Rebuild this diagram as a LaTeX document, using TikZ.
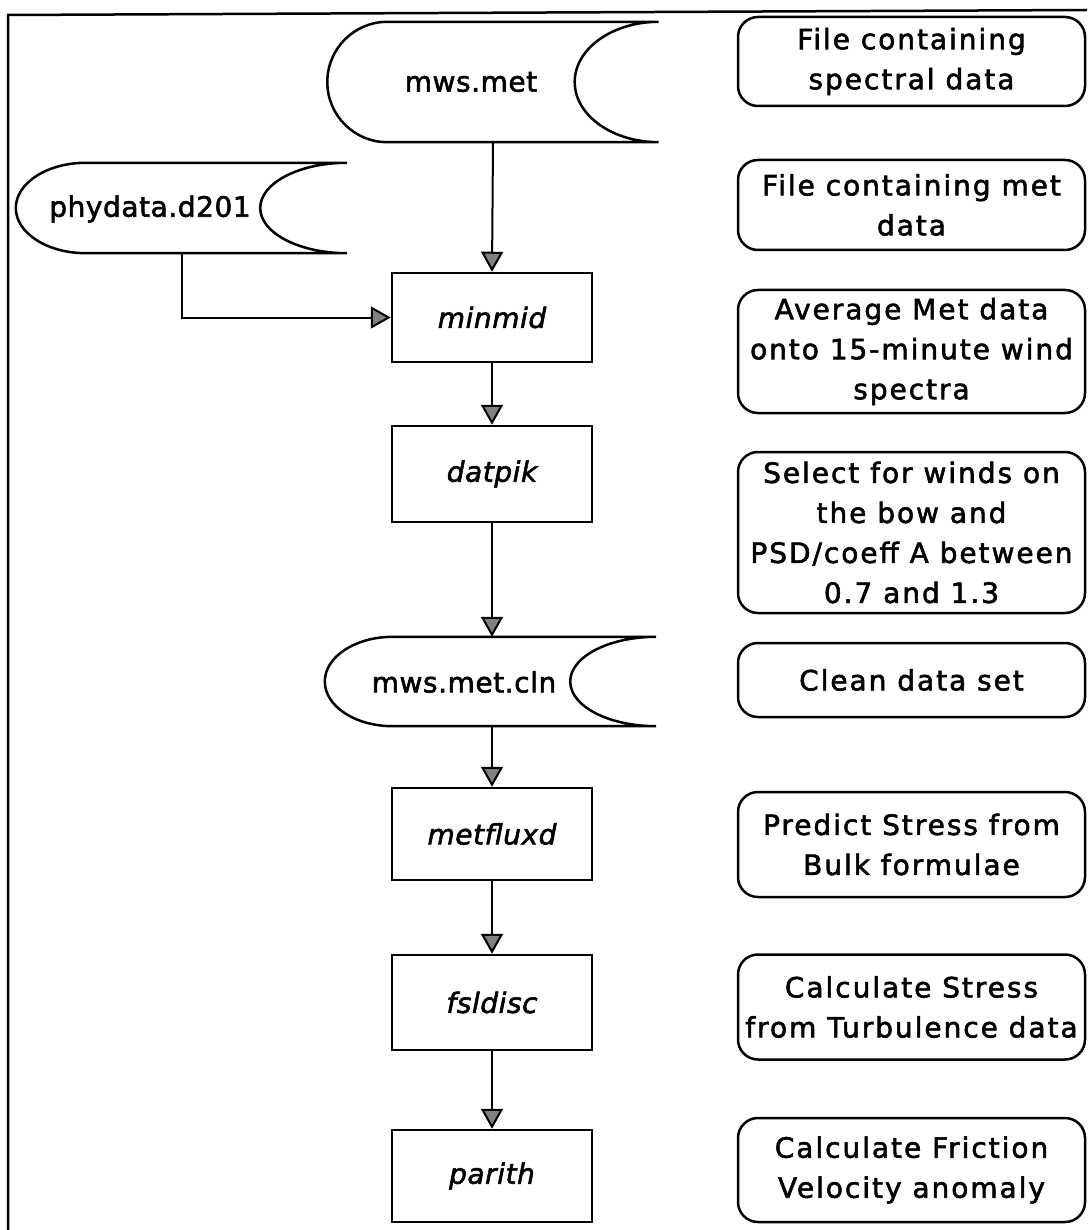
\documentclass[tikz,border=0pt]{standalone}
\usepackage{fontspec}
\setmainfont{DejaVu Sans}[FakeBold=2, LetterSpace=7]
\usetikzlibrary{arrows.meta,calc}

\definecolor{arrowgray}{gray}{0.5}

% outline of a stored-data symbol drawn around an (invisible) node:
% #1 node name, #2 width of the rounded left cap, #3 depth of the hollow right end
\newcommand\storeoutline[3]{%
  \draw[storeline] let \p1=(#1.north west), \p2=(#1.south east), \n1={(\y1-\y2)/2} in
    (\x1+#2,\y1) -- (\x2,\y1)
    arc[start angle=90, end angle=270, x radius=#3, y radius=\n1]
    -- (\x1+#2,\y2)
    arc[start angle=270, end angle=90, x radius=#2, y radius=\n1] -- cycle;}

\tikzset{
  every node/.style={font=\fontsize{28pt}{40pt}\selectfont},
  frameline/.style={line width=2.5pt},
  storeline/.style={line width=2.5pt},
  storebox/.style={inner sep=0pt, minimum width=331pt},
  storetext/.style={font=\fontsize{28pt}{40pt}\selectfont\addfontfeatures{LetterSpace=2}},
  procbox/.style={draw, line width=2.5pt, minimum width=200pt, minimum height=92pt,
                  inner sep=0pt,
                  font=\fontsize{28pt}{40pt}\selectfont\itshape\addfontfeatures{LetterSpace=2}},
  notebox/.style={draw, line width=2.5pt, rounded corners=20pt, minimum width=347pt,
                  inner sep=0pt, align=center},
  flow/.style={line width=2pt, -{Triangle[width=22pt,length=20pt,fill=arrowgray]}}
}

\begin{document}
\begin{tikzpicture}[x=1pt,y=-1pt]
  \fill[white] (0,0) rectangle (1087,1230);
  \useasboundingbox (0,0) rectangle (1087,1230);

  % page frame (left and top edges)
  \draw[frameline] (8,1230) -- (8,15) -- (1087,10);

  % stored data files
  \node[storebox, minimum height=120pt] (met) at (493,82) {};
  \storeoutline{met}{60pt}{84pt}
  \node[storetext] (metlabel) at (471,82) {mws.met};

  \node[storebox, minimum height=90pt] (phy) at (181.5,208) {};
  \storeoutline{phy}{70pt}{87pt}
  \node[storetext] (phylabel) at (150,209) {phydata.d201};

  \node[storebox, minimum height=89pt] (cln) at (490.5,681.5) {};
  \storeoutline{cln}{68pt}{86pt}
  \node[storetext] (clnlabel) at (464,682) {mws.met.cln};

  % processing programs
  \node[procbox, minimum height=89pt] (minmid) at (492,317.5) {minmid};
  \node[procbox, minimum height=96pt] (datpik) at (492,474)   {datpik};
  \node[procbox] (metfluxd) at (492,834)   {metfluxd};
  \node[procbox, minimum height=95pt] (fsldisc)  at (492,1002.5) {fsldisc};
  \node[procbox] (parith)   at (492,1176)  {parith};

  % descriptions
  \node[notebox, minimum height=89pt]  (n1) at (911.5,61.5)  {File containing\\spectral data};
  \node[notebox, minimum height=90pt]  (n2) at (911.5,205)   {File containing met\\data};
  \node[notebox, minimum height=123pt] (n3) at (911.5,351.5) {Average Met data\\onto 15-minute wind\\spectra};
  \node[notebox, minimum height=161pt] (n4) at (911.5,532.5) {Select for winds on\\the bow and\\PSD/coeff A between\\0.7 and 1.3};
  \node[notebox, minimum height=74pt]  (n5) at (911.5,680)   {Clean data set};
  \node[notebox, minimum height=105pt] (n6) at (911.5,844.5) {Predict Stress from\\Bulk formulae};
  \node[notebox, minimum height=105pt] (n7) at (911.5,1007)  {Calculate Stress\\from Turbulence data};
  \node[notebox, minimum height=104pt] (n8) at (911.5,1170)  {Calculate Friction\\Velocity anomaly};

  % data flow
  \draw[flow] (met.south) -- (minmid.north);
  \draw[flow] (phy.south) |- (minmid.west);
  \draw[flow] (minmid) -- (datpik);
  \draw[flow] (datpik.south) -- (datpik.south |- cln.north);
  \draw[flow] (cln.south -| metfluxd.north) -- (metfluxd.north);
  \draw[flow] (metfluxd) -- (fsldisc);
  \draw[flow] (fsldisc) -- (parith);
\end{tikzpicture}
\end{document}
